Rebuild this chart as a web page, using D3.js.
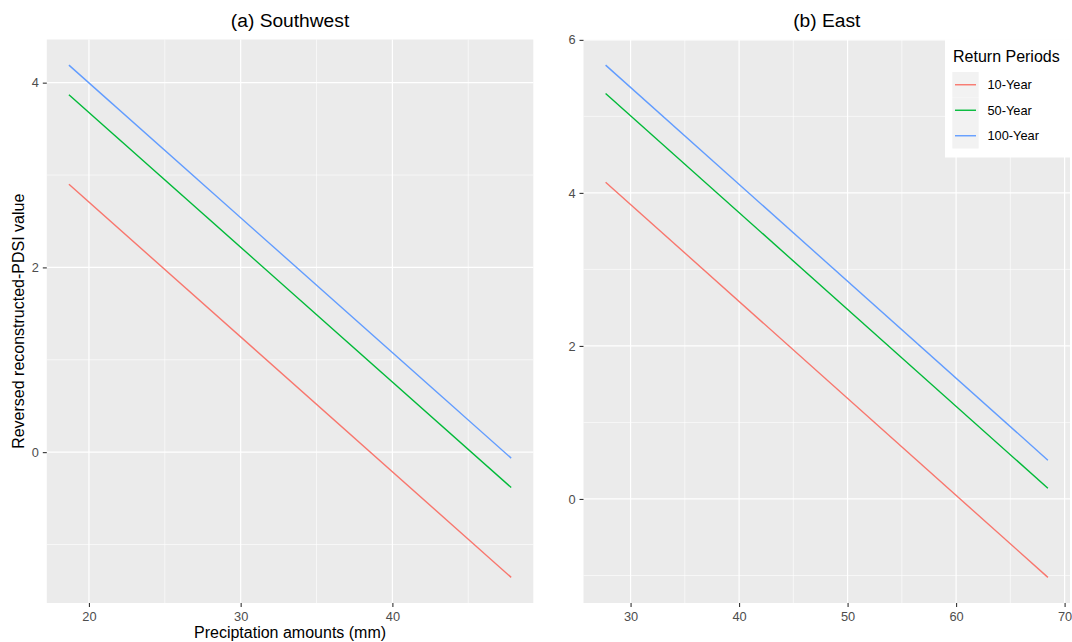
<!DOCTYPE html>
<html>
<head>
<meta charset="utf-8">
<script src="https://cdn.jsdelivr.net/npm/d3@7"></script>
<style>
  html, body { margin: 0; padding: 0; background: #ffffff; }
  svg { display: block; font-family: "Liberation Sans", Arial, sans-serif; }
</style>
</head>
<body>
<svg id="chart" width="1072" height="642"></svg>
<script>
// Return periods and their colours
const returnPeriods = ["10-Year", "50-Year", "100-Year"];
const periodColors = ["#F8766D", "#00BA38", "#619CFF"];

// (a) Southwest: precipitation range and reversed PDSI at each end
const southwestPrecip = [18.68, 47.83];
const southwest10 = [2.90, -1.356];
const southwest50 = [3.87, -0.383];
const southwest100 = [4.19, -0.065];

// (b) East
const eastPrecip = [27.7, 68.46];
const east10 = [4.14, -1.025];
const east50 = [5.30, 0.14];
const east100 = [5.67, 0.507];

// Tick labels
const southwestXTicks = [20, 30, 40];
const southwestYTicks = [0, 2, 4];
const eastXTicks = [30, 40, 50, 60, 70];
const eastYTicks = [0, 2, 4, 6];

const svg = d3.select("#chart");
const panelTop = 39.5, panelBottom = 603;

const panels = [
  {
    title: "(a) Southwest", x0: 46.8, x1: 533.3,
    precip: southwestPrecip, series: [southwest10, southwest50, southwest100],
    xTicks: southwestXTicks, yTicks: southwestYTicks, legend: false
  },
  {
    title: "(b) East", x0: 583.5, x1: 1070,
    precip: eastPrecip, series: [east10, east50, east100],
    xTicks: eastXTicks, yTicks: eastYTicks, legend: true
  }
];

// ggplot-style 5% expansion of a data extent
function expand(ext) {
  const pad = (ext[1] - ext[0]) * 0.05;
  return [ext[0] - pad, ext[1] + pad];
}

// minor breaks halfway between majors, kept inside the domain
function minorBreaks(ticks, domain) {
  const step = ticks[1] - ticks[0];
  const out = [];
  for (let v = ticks[0] - step / 2; v <= domain[1]; v += step) {
    if (v >= domain[0]) out.push(v);
  }
  return out;
}

panels.forEach(p => {
  const xDomain = expand(d3.extent(p.precip));
  const yDomain = expand(d3.extent(p.series.flat()));
  const x = d3.scaleLinear().domain(xDomain).range([p.x0, p.x1]);
  const y = d3.scaleLinear().domain(yDomain).range([panelBottom, panelTop]);

  const g = svg.append("g");

  // panel background
  g.append("rect")
    .attr("x", p.x0).attr("y", panelTop)
    .attr("width", p.x1 - p.x0).attr("height", panelBottom - panelTop)
    .attr("fill", "#EBEBEB");

  // minor grid
  const grid = g.append("g").attr("stroke", "#FFFFFF").attr("fill", "none");
  minorBreaks(p.xTicks, xDomain).forEach(v => {
    grid.append("line").attr("x1", x(v)).attr("x2", x(v))
      .attr("y1", panelTop).attr("y2", panelBottom).attr("stroke-width", 0.6);
  });
  minorBreaks(p.yTicks, yDomain).forEach(v => {
    grid.append("line").attr("x1", p.x0).attr("x2", p.x1)
      .attr("y1", y(v)).attr("y2", y(v)).attr("stroke-width", 0.6);
  });
  // major grid
  p.xTicks.forEach(v => {
    grid.append("line").attr("x1", x(v)).attr("x2", x(v))
      .attr("y1", panelTop).attr("y2", panelBottom).attr("stroke-width", 1.2);
  });
  p.yTicks.forEach(v => {
    grid.append("line").attr("x1", p.x0).attr("x2", p.x1)
      .attr("y1", y(v)).attr("y2", y(v)).attr("stroke-width", 1.2);
  });

  // lines for each return period
  const line = d3.line().x(d => x(d[0])).y(d => y(d[1]));
  p.series.forEach((vals, i) => {
    const pts = p.precip.map((pr, j) => [pr, vals[j]]);
    g.append("path").datum(pts)
      .attr("d", line)
      .attr("fill", "none")
      .attr("stroke", periodColors[i])
      .attr("stroke-width", 1.4);
  });

  // axes
  const xAxis = d3.axisBottom(x).tickValues(p.xTicks).tickSize(4).tickPadding(3).tickFormat(d3.format("d"));
  const yAxis = d3.axisLeft(y).tickValues(p.yTicks).tickSize(4).tickPadding(3).tickFormat(d3.format("d"));

  const gx = g.append("g").attr("transform", `translate(0,${panelBottom})`).call(xAxis);
  const gy = g.append("g").attr("transform", `translate(${p.x0},0)`).call(yAxis);
  [gx, gy].forEach(a => {
    a.select(".domain").remove();
    a.selectAll(".tick line").attr("stroke", "#333333").attr("stroke-width", 1.1);
    a.selectAll(".tick text")
      .attr("fill", "#4D4D4D")
      .style("font-size", "12.8px")
      .style("font-family", "'Liberation Sans', Arial, sans-serif");
  });
  gx.selectAll(".tick text").attr("dy", "0.85em");
  gy.selectAll(".tick text").attr("dx", "-1px");

  // panel title
  svg.append("text")
    .attr("x", (p.x0 + p.x1) / 2).attr("y", 27)
    .attr("text-anchor", "middle")
    .attr("fill", "#000000")
    .style("font-size", "19.2px")
    .text(p.title);

  // legend inside the top-right corner
  if (p.legend) {
    const lx = 945, ly = panelTop, lw = p.x1 - lx, lh = 118;
    const lg = svg.append("g");
    lg.append("rect").attr("x", lx).attr("y", ly).attr("width", lw).attr("height", lh)
      .attr("fill", "#FFFFFF");
    lg.append("text").attr("x", 953).attr("y", 62)
      .attr("fill", "#000000").style("font-size", "16px")
      .text("Return Periods");
    const keyTop = 72, keyH = 25.5;
    returnPeriods.forEach((name, i) => {
      const ky = keyTop + i * keyH;
      lg.append("rect").attr("x", 952.3).attr("y", ky).attr("width", 26.4).attr("height", keyH)
        .attr("fill", "#F2F2F2");
      lg.append("line").attr("x1", 955).attr("x2", 976)
        .attr("y1", ky + keyH / 2).attr("y2", ky + keyH / 2)
        .attr("stroke", periodColors[i]).attr("stroke-width", 1.4);
      lg.append("text").attr("x", 987.5).attr("y", ky + keyH / 2)
        .attr("dy", "0.35em")
        .attr("fill", "#000000").style("font-size", "12.8px")
        .text(name);
    });
  }
});

// axis titles
svg.append("text")
  .attr("x", (panels[0].x0 + panels[0].x1) / 2).attr("y", 637.5)
  .attr("text-anchor", "middle")
  .attr("fill", "#000000").style("font-size", "16px")
  .text("Preciptation amounts (mm)");

svg.append("text")
  .attr("transform", `translate(24,${(panelTop + panelBottom) / 2}) rotate(-90)`)
  .attr("text-anchor", "middle")
  .attr("fill", "#000000").style("font-size", "16px")
  .text("Reversed reconstructed-PDSI value");
</script>
</body>
</html>
